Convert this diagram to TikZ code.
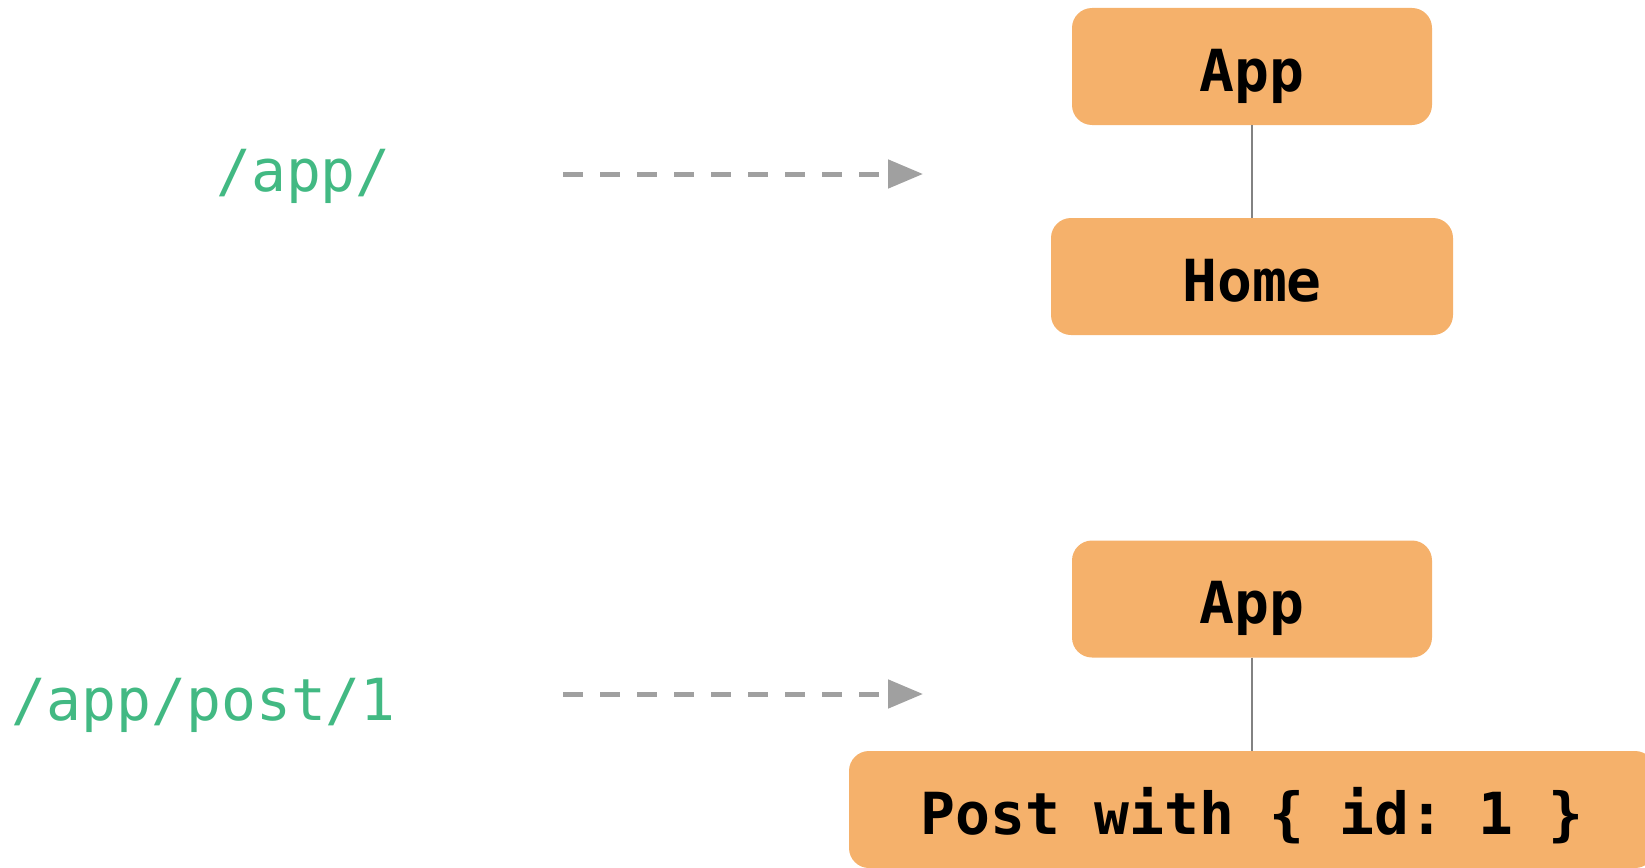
\documentclass[tikz,border=0pt]{standalone}
\usepackage{fontspec}
\setmonofont{DejaVu Sans Mono}
\usetikzlibrary{arrows.meta}
\definecolor{boxfill}{RGB}{245,177,107}
\definecolor{routegreen}{RGB}{66,185,131}
\definecolor{arrowgray}{RGB}{160,160,160}
\definecolor{linegray}{RGB}{130,130,130}
\begin{document}
\begin{tikzpicture}[x=1pt,y=-1pt,
  comp/.style={fill=boxfill,rounded corners=20pt,inner sep=0pt,minimum height=117pt,
    text height=49pt,text depth=0pt,font=\fontsize{58}{68}\selectfont\ttfamily\bfseries,text=black},
  route/.style={inner sep=0pt,anchor=base east,text=routegreen,font=\fontsize{58}{68}\selectfont\ttfamily},
  maparrow/.style={draw=arrowgray,line width=5pt,dash pattern=on 20pt off 17pt,
    -{Triangle[length=35pt,width=28pt]}},
  tree/.style={draw=linegray,line width=2pt}]
\useasboundingbox (0,0) rectangle (1645,867);
\clip (0,0) rectangle (1645,867);
% top
\node[route] (r1) at (391,191) {/app/};
\coordinate (a1s) at (563,174);
\coordinate (a1e) at (923,174);
\draw[maparrow] (a1s) -- (a1e);
\node[comp,minimum width=360pt] (app1) at (1252,66.5) {App};
\node[comp,minimum width=402pt] (home) at (1252,276.5) {Home};
\draw[tree] (app1.south) -- (home.north);
% bottom
\node[route] (r2) at (396,720) {/app/post/1};
\coordinate (a2s) at (563,694);
\coordinate (a2e) at (923,694);
\draw[maparrow] (a2s) -- (a2e);
\node[comp,minimum width=360pt] (app2) at (1252,599) {App};
\node[comp,minimum width=806pt] (post) at (1252,809.5) {Post with \{ id: 1 \}};
\draw[tree] (app2.south) -- (post.north);
\end{tikzpicture}
\end{document}
